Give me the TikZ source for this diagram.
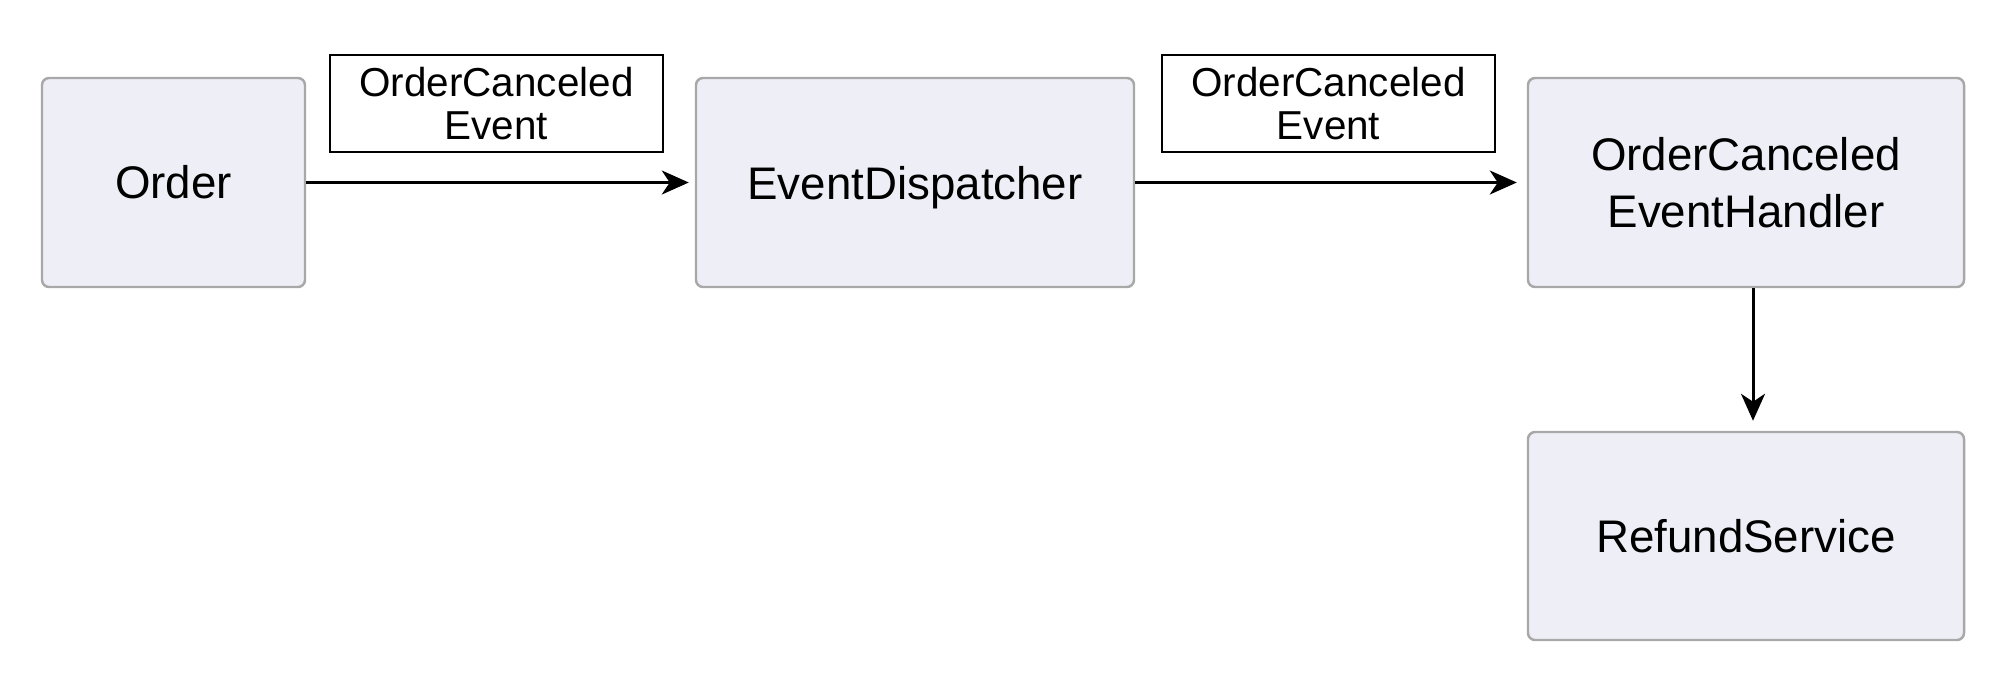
\documentclass[tikz,border=0pt]{standalone}
\usepackage{fontspec}
\setmainfont{Liberation Sans}
\usetikzlibrary{arrows.meta}
\definecolor{boxfill}{HTML}{EEEEF6}
\definecolor{boxline}{HTML}{A8A8A8}
\tikzset{
  compbox/.style={draw=boxline,fill=boxfill,line width=0.7pt,rounded corners=2pt,
    minimum width=#1,minimum height=2.09cm,align=center,
    font=\fontsize{13}{16.3}\selectfont},
  evlabel/.style={draw=black,fill=white,line width=0.7pt,minimum width=3.33cm,
    minimum height=0.97cm,align=center,inner sep=0pt,
    font=\fontsize{11.5}{12.4}\selectfont},
  flow/.style={->,line width=0.85pt}
}
\begin{document}
\begin{tikzpicture}[>={Stealth[length=0.27cm,width=0.24cm,inset=0.08cm]}]
  \useasboundingbox (0,0) rectangle (20,6.74);
  \node[compbox=2.63cm] (order) at (1.735,4.915) {Order};
  \node[compbox=4.38cm,text depth=0pt] (dispatcher) at (9.15,4.915) {EventDispatcher};
  \node[compbox=4.36cm] (handler) at (17.46,4.915) {OrderCanceled\\EventHandler};
  \node[compbox=4.36cm,minimum height=2.08cm] (refund) at (17.46,1.38) {RefundService};
  \node[evlabel] (evone) at (4.965,5.705) {OrderCanceled\\Event};
  \node[evlabel] (evtwo) at (13.285,5.705) {OrderCanceled\\Event};
  \draw[flow,shorten >=0.06cm] (order) -- (dispatcher);
  \draw[flow,shorten >=0.1cm] (dispatcher) -- (handler);
  \draw[flow,shorten >=0.1cm] ([xshift=0.07cm]handler.south) -- ([xshift=0.07cm]refund.north);
\end{tikzpicture}
\end{document}
